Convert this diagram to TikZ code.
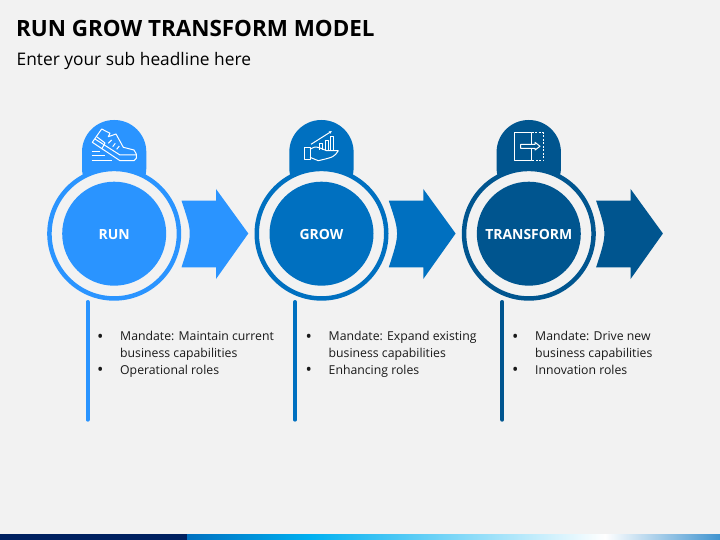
\documentclass[tikz,border=0pt]{standalone}
\usepackage{fontspec}
\usetikzlibrary{arrows.meta}
\setmainfont{Open Sans}
\definecolor{pagebg}{HTML}{F2F2F2}
\definecolor{runblue}{HTML}{2A94FF}
\definecolor{growblue}{HTML}{0070C0}
\definecolor{transblue}{HTML}{00558F}
\definecolor{barnavy}{HTML}{002060}
\definecolor{barcyan}{HTML}{00B0F0}
\newcommand{\listdot}{\llap{\raisebox{-1.2bp}{\fontsize{17}{17}\selectfont\textbullet}\hspace{16.6bp}}}
\tikzset{
    ringnode/.style={circle, draw=#1, line width=4.5bp, fill=pagebg, minimum size=129.5bp, inner sep=0pt},
    discnode/.style={circle, fill=#1, text=white, minimum size=104bp, inner sep=0pt, text height=12bp, font=\fontsize{14}{16}\selectfont\bfseries},
    bodytext/.style={anchor=north west, align=left, inner sep=0pt, text=black!90, font=\fontsize{12.3}{16.7}\selectfont},
    iconline/.style={draw=white, line width=1bp, line join=round},
    stem/.style={line width=4bp, line cap=round, draw=#1}
}
\begin{document}
\begin{tikzpicture}[x=1bp,y=-1bp]
    \useasboundingbox (0,0) rectangle (720,540);
    \fill[pagebg] (0,0) rectangle (720,540);

    % Headline
    \node (title) [anchor=base west, inner sep=0pt, font=\fontsize{22.5}{25}\selectfont\bfseries] at (16,36.5) {RUN GROW TRANSFORM MODEL};
    \node (subtitle) [anchor=base west, inner sep=0pt, font=\fontsize{17.4}{20}\selectfont] at (16.5,66) {Enter your sub headline here};

    % Tabs behind the circles
    \fill[runblue, rounded corners=32bp] (82,200) -- (82,120) -- (146.3,120) -- (146.3,200) -- cycle;
    \fill[growblue, rounded corners=32bp] (289.3,200) -- (289.3,120) -- (353.6,120) -- (353.6,200) -- cycle;
    \fill[transblue, rounded corners=32bp] (496.6,200) -- (496.6,120) -- (560.9,120) -- (560.9,200) -- cycle;

    % Run
    \node (runring) [ringnode=runblue] at (114.2,233.7) {};
    \node (run) [discnode=runblue] at (114.2,233.7) {RUN};
    \fill[runblue] (181.5,200.7) -- (216,200.7) -- (216,189) -- (248.3,233.5) -- (216,279) -- (216,267.3) -- (181.5,267.3) .. controls (192.5,233.5) .. (181.5,200.7) -- cycle;

    % Grow
    \node (growring) [ringnode=growblue] at (321.5,233.7) {};
    \node (grow) [discnode=growblue] at (321.5,233.7) {GROW};
    \fill[growblue] (388.8,200.7) -- (423.3,200.7) -- (423.3,189) -- (455.6,233.5) -- (423.3,279) -- (423.3,267.3) -- (388.8,267.3) .. controls (399.8,233.5) .. (388.8,200.7) -- cycle;

    % Transform
    \node (transring) [ringnode=transblue] at (528.8,233.7) {};
    \node (trans) [discnode=transblue] at (528.8,233.7) {TRANSFORM};
    \fill[transblue] (596.1,200.7) -- (630.6,200.7) -- (630.6,189) -- (662.9,233.5) -- (630.6,279) -- (630.6,267.3) -- (596.1,267.3) .. controls (607.1,233.5) .. (596.1,200.7) -- cycle;

    % Shoe icon
    \draw[iconline] (92.3,142.3) -- (101.7,129) -- (110,133.3) -- (108.3,136.7) -- (116,134) -- (123.3,147.3) -- (134,150) -- (136.3,154) -- (136.3,158.3) -- (134,160.7) -- (120,160.7) -- cycle;
    \draw[iconline] (95,139) -- (120,155) -- (136.3,155);
    \draw[iconline] (97,137) -- (105,143) -- (101.7,149);
    \draw[iconline] (108.3,143.3) -- (111.7,140) (112.7,146.7) -- (115.3,143.3) (116.7,149.3) -- (119.3,146);
    \draw[iconline] (91.7,151.3) -- (100,151.3) (91.7,156) -- (105,156) (91.7,160.7) -- (111.7,160.7);

    % Hand and chart icon
    \draw[iconline] (304.3,147.7) rectangle (310,159.3);
    \draw[iconline] (310,149.3) .. controls (315,146.5) .. (320,148) -- (326.7,150.7) -- (338.3,150.7) .. controls (334,157) .. (318.3,160.7) -- (310,157.3);
    \draw[iconline] (319.3,150) -- (319.3,143.3) -- (322.7,143.3) -- (322.7,150);
    \draw[iconline] (325,150) -- (325,140.7) -- (328.3,140.7) -- (328.3,150);
    \draw[iconline] (330.7,150) -- (330.7,136.7) -- (333.3,136.7) -- (333.3,150);
    \draw[iconline, -{Latex[length=3bp,width=3bp]}] (311,144.3) -- (332,131);

    % Door icon
    \draw[iconline] (514.3,132.7) rectangle (531.7,161);
    \draw[iconline, dash pattern=on 2bp off 1.5bp] (531.7,132.7) -- (543.3,132.7) -- (543.3,161) -- (531.7,161);
    \draw[iconline, fill=transblue] (520.7,144.3) -- (535,144.3) -- (535,142.3) -- (540,146.3) -- (535,150) -- (535,148.3) -- (520.7,148.3) -- cycle;

    % Stems
    \coordinate (runtop) at (87.5,302);
    \coordinate (runend) at (87.5,419.7);
    \coordinate (growtop) at (295,302);
    \coordinate (growend) at (295,419.7);
    \coordinate (transtop) at (502.3,302);
    \coordinate (transend) at (502.3,419.7);
    \draw[stem=runblue] (runtop) -- (runend);
    \draw[stem=growblue] (growtop) -- (growend);
    \draw[stem=transblue] (transtop) -- (transend);

    % Lists
    \node (runlist) [bodytext] at (120,331.3) {\listdot Mandate: Maintain current\\business capabilities\\\listdot Operational roles};
    \node (growlist) [bodytext] at (328.5,331.3) {\listdot Mandate: Expand existing\\business capabilities\\\listdot Enhancing roles};
    \node (translist) [bodytext] at (535,331.3) {\listdot Mandate: Drive new\\business capabilities\\\listdot Innovation roles};

    % Bottom bar
    \fill[barnavy] (0,534) rectangle (187,540);
    \shade[left color=growblue, right color=barcyan] (187,534) rectangle (310,540);
    \shade[left color=barcyan, right color=white] (310,534) rectangle (605,540);
    \shade[left color=white, right color=growblue!75] (605,534) rectangle (720,540);
\end{tikzpicture}
\end{document}
